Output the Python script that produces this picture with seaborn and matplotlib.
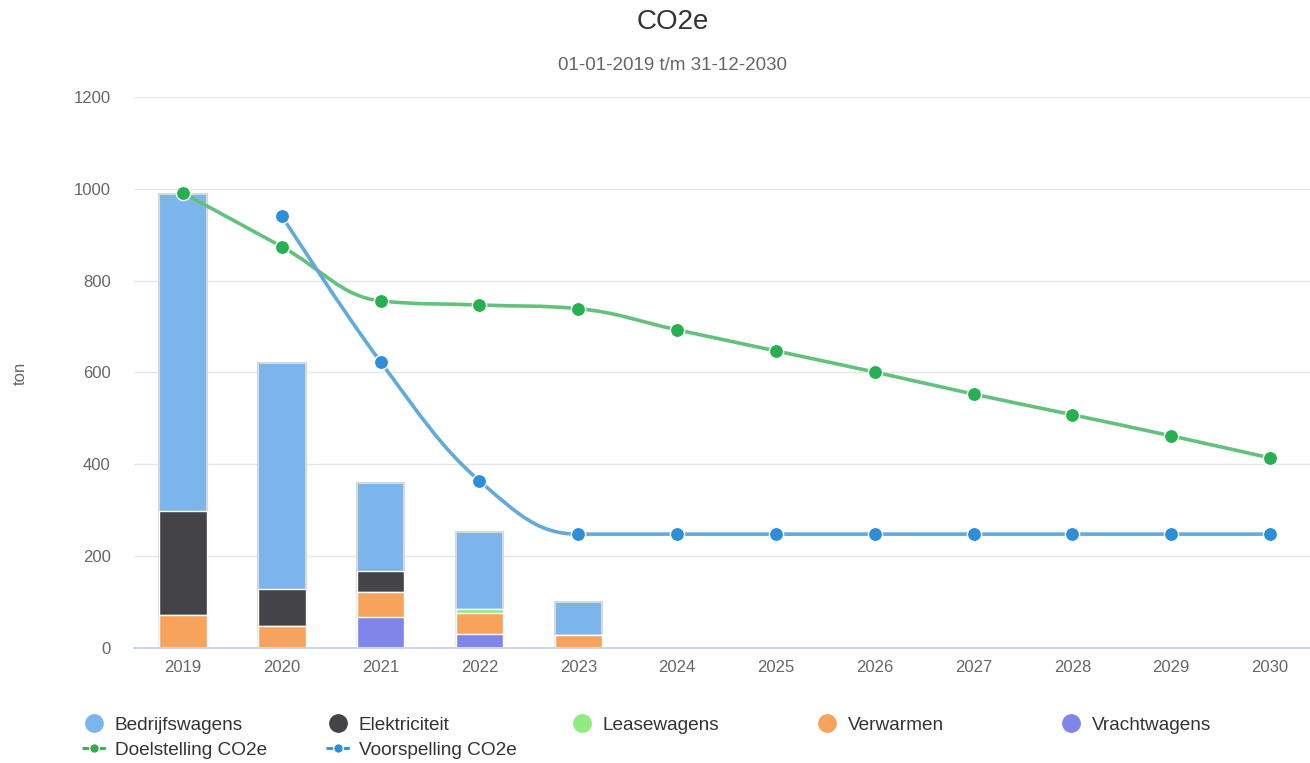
import numpy as np
import matplotlib
matplotlib.use('Agg')
import matplotlib.pyplot as plt
from matplotlib.path import Path
from matplotlib.patches import PathPatch
from matplotlib.lines import Line2D
import seaborn as sns

# Data (ton CO2e)
years = ['2019', '2020', '2021', '2022', '2023', '2024', '2025', '2026',
         '2027', '2028', '2029', '2030']
bar_years = ['2019', '2020', '2021', '2022', '2023']
bedrijfswagens = [691, 493, 191, 168, 72]
elektriciteit = [226, 80, 46, 0, 0]
leasewagens = [0, 0, 0, 9, 0]
verwarmen = [72, 48, 55, 46, 28]
vrachtwagens = [0, 0, 67, 30, 0]
doelstelling = [991, 874, 756, 747, 739, 693, 647, 601, 553, 508, 462, 414]
voorspelling_years = years[1:]
voorspelling = [941, 623, 364, 248, 248, 248, 248, 248, 248, 248, 248]

colors = {
    'Bedrijfswagens': '#7cb5ec',
    'Elektriciteit': '#434348',
    'Leasewagens': '#90ed7d',
    'Verwarmen': '#f7a35c',
    'Vrachtwagens': '#8085e9',
}

sns.set_style('white')
plt.rcParams['font.family'] = ['Liberation Sans', 'DejaVu Sans']

W, H = 1310, 763
fig = plt.figure(figsize=(W / 100, H / 100), dpi=100)
left, right, bottom, top = 133.6, 1310, 648, 97
ax = fig.add_axes([left / W, 1 - bottom / H, (right - left) / W, (bottom - top) / H])

# stacked bars: draw cumulative totals from top layer down
stack = [('Vrachtwagens', vrachtwagens), ('Verwarmen', verwarmen),
         ('Leasewagens', leasewagens), ('Elektriciteit', elektriciteit),
         ('Bedrijfswagens', bedrijfswagens)]
cums = np.cumsum([v for _, v in stack], axis=0)
for i in range(len(stack) - 1, -1, -1):
    name = stack[i][0]
    sns.barplot(x=bar_years, y=cums[i], order=years, color=colors[name],
                saturation=1, width=0.48, errorbar=None,
                edgecolor='#d8d8d8' if i == len(stack) - 1 else 'white',
                linewidth=1.5 if i == len(stack) - 1 else 1, ax=ax, zorder=2)


def spline_path(xs, ys, smoothing=1.5):
    n = len(xs)
    lc, rc = [], []
    for i in range(n):
        x, y = xs[i], ys[i]
        if 0 < i < n - 1:
            px, py, nx, ny = xs[i - 1], ys[i - 1], xs[i + 1], ys[i + 1]
            d = smoothing + 1
            lcx, lcy = (smoothing * x + px) / d, (smoothing * y + py) / d
            rcx, rcy = (smoothing * x + nx) / d, (smoothing * y + ny) / d
            corr = (rcy - lcy) * (rcx - x) / (rcx - lcx) + y - rcy
            lcy += corr
            rcy += corr
            if lcy > py and lcy > y:
                lcy = max(py, y); rcy = 2 * y - lcy
            elif lcy < py and lcy < y:
                lcy = min(py, y); rcy = 2 * y - lcy
            if rcy > ny and rcy > y:
                rcy = max(ny, y); lcy = 2 * y - rcy
            elif rcy < ny and rcy < y:
                rcy = min(ny, y); lcy = 2 * y - rcy
        else:
            lcx, lcy, rcx, rcy = x, y, x, y
        lc.append((lcx, lcy))
        rc.append((rcx, rcy))
    verts = [(xs[0], ys[0])]
    codes = [Path.MOVETO]
    for i in range(1, n):
        verts += [rc[i - 1], lc[i], (xs[i], ys[i])]
        codes += [Path.CURVE4] * 3
    return Path(verts, codes)


lines = [
    ('Doelstelling CO2e', years, doelstelling, '#62c27c', '#27b052'),
    ('Voorspelling CO2e', voorspelling_years, voorspelling, '#62a9dc', '#2d8fd9'),
]
for label, yrs, vals, lc_, mc in lines:
    xs = [years.index(y) for y in yrs]
    ax.add_patch(PathPatch(spline_path(xs, vals), facecolor='none',
                           edgecolor=lc_, linewidth=2.6, zorder=3))
    sns.scatterplot(x=xs, y=vals, color=mc, s=105, edgecolor='white',
                    linewidth=1, ax=ax, zorder=4, legend=False)

ax.set_xlim(-0.5, 11.5 - 9.4 / 98.8)
ax.set_ylim(0, 1200)
ax.set_yticks(range(0, 1201, 200))
ax.set_xticks(range(len(years)))
ax.set_xticklabels(years)
ax.grid(axis='y', color='#e6e6e6', linewidth=1)
ax.set_axisbelow(True)
for s in ['top', 'right', 'left']:
    ax.spines[s].set_visible(False)
ax.spines['bottom'].set_color('#ccd6eb')
ax.spines['bottom'].set_linewidth(1.5)
ax.spines['bottom'].set_zorder(5)
ax.tick_params(axis='y', length=0, pad=16.5, labelsize=12, labelcolor='#666666')
ax.tick_params(axis='x', length=0, pad=9, labelsize=12, labelcolor='#666666')
ax.set_xlabel('')
ax.set_ylabel('')

fig.text(20 / W, 1 - 373 / H, 'ton', rotation=90, ha='center', va='center',
         fontsize=12, color='#666666')
fig.text(673 / W, 1 - 22 / H, 'CO2e', ha='center', va='center',
         fontsize=20, color='#333333')
fig.text(673 / W, 1 - 66 / H, '01-01-2019 t/m 31-12-2030', ha='center',
         va='center', fontsize=13.5, color='#666666')

# legend, laid out like the original (row-wise, fixed column spacing)
col_x = [94, 338, 582, 827, 1071]
entries = [
    ('Bedrijfswagens', 0, 725, Line2D([], [], marker='o', linestyle='none',
                                      markersize=12.5, color=colors['Bedrijfswagens'])),
    ('Elektriciteit', 1, 725, Line2D([], [], marker='o', linestyle='none',
                                     markersize=12.5, color=colors['Elektriciteit'])),
    ('Leasewagens', 2, 725, Line2D([], [], marker='o', linestyle='none',
                                   markersize=12.5, color=colors['Leasewagens'])),
    ('Verwarmen', 3, 725, Line2D([], [], marker='o', linestyle='none',
                                markersize=12.5, color=colors['Verwarmen'])),
    ('Vrachtwagens', 4, 725, Line2D([], [], marker='o', linestyle='none',
                                    markersize=12.5, color=colors['Vrachtwagens'])),
    ('Doelstelling CO2e', 0, 750, Line2D([], [], marker='o', linestyle='--',
                                         dashes=(3, 2.4), markersize=7, linewidth=2,
                                         color='#27b052', markeredgecolor='white')),
    ('Voorspelling CO2e', 1, 750, Line2D([], [], marker='o', linestyle='--',
                                         dashes=(3, 2.4), markersize=7, linewidth=2,
                                         color='#2d8fd9', markeredgecolor='white')),
]
for text, col, y, handle in entries:
    fig.legend([handle], [text], loc='center left',
               bbox_to_anchor=((col_x[col] - 12.5) / W, 1 - y / H),
               frameon=False, borderpad=0, borderaxespad=0, handlelength=1.3,
               handletextpad=0.45, fontsize=13.7, labelcolor='#333333')

fig.savefig('out.png', dpi=100, facecolor='white')
